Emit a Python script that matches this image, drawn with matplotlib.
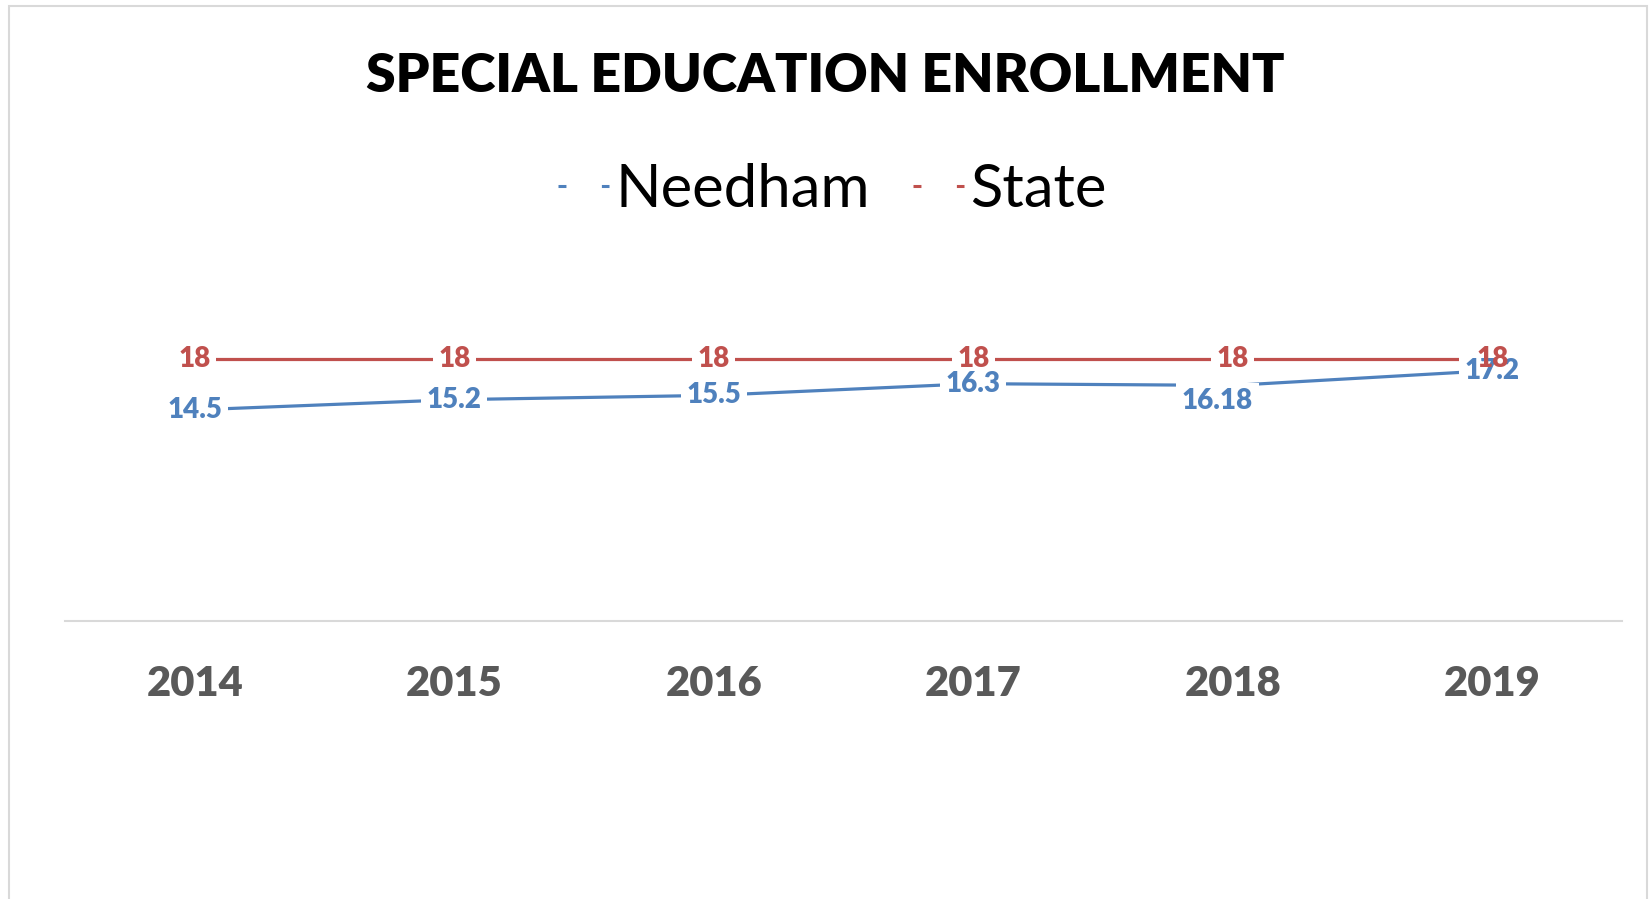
import matplotlib
matplotlib.use('Agg')
import matplotlib.pyplot as plt
from matplotlib.lines import Line2D
from matplotlib.patches import Rectangle

years = ['2014', '2015', '2016', '2017', '2018', '2019']
needham = [14.5, 15.2, 15.5, 16.3, 16.18, 17.2]
state = [18, 18, 18, 18, 18, 18]
needham_labels = ['14.5', '15.2', '15.5', '16.3', '16.18', '17.2']
state_labels = ['18', '18', '18', '18', '18', '18']

BLUE = '#4F81BD'
RED = '#C0504D'
GREY = '#595959'

plt.rcParams['font.family'] = ['Lato', 'DejaVu Sans']

fig = plt.figure(figsize=(16.51, 8.99), dpi=100)
ax = fig.add_axes([65/1651, 278/899, 1557/1651, 291.2/899])

# chart frame (bottom edge falls outside the image)
fig.add_artist(Rectangle((9/1651, -0.05), 1638/1651, 1.05 - 6/899,
                         transform=fig.transFigure, fill=False,
                         edgecolor='#D9D9D9', lw=1.5))

x = list(range(len(years)))
ax.plot(x, needham, color=BLUE, lw=2.3, zorder=2, solid_capstyle='round')
ax.plot(x, state, color=RED, lw=2.3, zorder=2, solid_capstyle='round')

def put_labels(vals, labels, color, offsets):
    for xi, v, lab, off in zip(x, vals, labels, offsets):
        # white box knocks the line out behind the label
        ax.annotate(lab, (xi, v), xytext=off, textcoords='offset points',
                    ha='center', va='center', fontsize=20, fontweight='heavy',
                    color=(1, 1, 1, 0), zorder=3,
                    bbox=dict(boxstyle='square,pad=0.2', fc='white', ec='none'))
    for xi, v, lab, off in zip(x, vals, labels, offsets):
        ax.annotate(lab, (xi, v), xytext=off, textcoords='offset points',
                    ha='center', va='center', fontsize=20, fontweight='heavy',
                    color=color, zorder=4)

put_labels(needham, needham_labels, BLUE,
           [(0, 0), (0, 0), (0, 0), (0, 0), (-11, -11.5), (0, 0)])
put_labels(state, state_labels, RED, [(0, 0)] * 6)

ax.set_xlim(-0.5, len(years) - 0.5)
ax.set_ylim(0, 20)
ax.set_xticks(x)
ax.set_xticklabels(years, fontsize=30, fontweight='heavy', color=GREY)
ax.tick_params(axis='x', length=0, pad=32)
ax.set_yticks([])
for side in ['top', 'left', 'right']:
    ax.spines[side].set_visible(False)
ax.spines['bottom'].set_color('#D9D9D9')
ax.spines['bottom'].set_linewidth(1.5)

fig.text(0.5, 1 - 77/899, 'SPECIAL EDUCATION ENROLLMENT', ha='center', va='center',
         fontsize=38.5, fontweight='heavy', color='black')

handles = [Line2D([], [], color=BLUE, lw=2.2, linestyle=(0, (2.6, 11.6))),
           Line2D([], [], color=RED, lw=2.2, linestyle=(0, (2.6, 11.6)))]
fig.legend(handles, ['Needham', 'State'], loc='center', ncol=2,
           bbox_to_anchor=(0.504, 1 - 190/899), frameon=False, fontsize=43,
           handlelength=0.86, handletextpad=0.1, columnspacing=0.72)

fig.savefig('out.png', dpi=100)
